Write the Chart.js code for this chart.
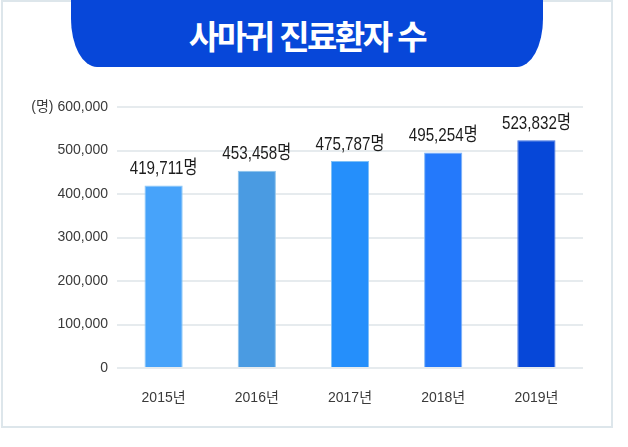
<!DOCTYPE html>
<html lang="ko">
<head>
<meta charset="utf-8">
<script src="https://cdn.jsdelivr.net/npm/chart.js@4.4.1/dist/chart.umd.min.js"></script>
<style>
    html, body { margin: 0; padding: 0; background: #fff; }
    body { width: 628px; height: 447px; position: relative; overflow: hidden; }
    .marco {
        position: absolute; left: 1px; top: 0; width: 608px; height: 424px;
        border: 2px solid #dde6eb;
    }
    .cinta {
        position: absolute; left: 71px; top: 0; width: 472px; height: 67px;
        background: #0747d9;
        border-radius: 0 0 26px 26px / 0 0 48px 48px;
        color: #fff; text-align: center;
        font: bold 33px "Noto Sans CJK KR", sans-serif;
        letter-spacing: -2.5px;
        line-height: 71px;
    }
    #grafica { position: absolute; left: 0; top: 0; }
</style>
</head>
<body>
<div class="marco"></div>
<div class="cinta">사마귀 진료환자 수</div>
<canvas id="grafica" width="628" height="447"></canvas>
<script>
/* ==================
    DATOS
================== */

const anios = ['2015년', '2016년', '2017년', '2018년', '2019년'];
const pacientes = [419711, 453458, 475787, 495254, 523832];
const ticksY = [0, 100000, 200000, 300000, 400000, 500000, 600000];
const coloresBarra = ['#47a3fa', '#4a9be2', '#258ffb', '#2479fb', '#0647d8'];
const coloresBorde = ['#8cc8f6', '#8cc3ec', '#7ec0f6', '#7fb5f6', '#3f6fe0'];

const fuente = '"Liberation Sans", Arial, "Noto Sans CJK KR", sans-serif';

// Etiquetas encima de cada barra (letra algo estrecha, como en el original)
const etiquetas = {
    id: 'etiquetas',
    afterDatasetsDraw(chart) {
        const ctx = chart.ctx;
        const meta = chart.getDatasetMeta(0);
        meta.data.forEach((bar, i) => {
            ctx.save();
            ctx.translate(bar.x, bar.y - 7);
            ctx.scale(0.8, 1);
            ctx.font = '19px ' + fuente;
            ctx.fillStyle = '#1c1c1c';
            ctx.textAlign = 'center';
            ctx.textBaseline = 'bottom';
            ctx.fillText(pacientes[i].toLocaleString('en-US') + '명', 0, 0);
            ctx.restore();
        });
    }
};

const ctx = document.getElementById('grafica').getContext('2d');
new Chart(ctx, {
    type: 'bar',
    data: {
        labels: anios,
        datasets: [{
            data: pacientes,
            backgroundColor: coloresBarra,
            borderColor: coloresBorde,
            borderWidth: { left: 1, right: 1, top: 1, bottom: 0 },
            categoryPercentage: 1,
            barPercentage: 0.41
        }]
    },
    options: {
        responsive: false,
        animation: false,
        layout: { padding: { left: 0, right: 45, top: 107, bottom: 0 } },
        plugins: {
            legend: { display: false },
            tooltip: { enabled: false }
        },
        scales: {
            y: {
                min: 0,
                max: 600000,
                afterFit: s => { s.width = 117; },
                afterBuildTicks: s => { s.ticks = ticksY.map(v => ({ value: v })); },
                border: { display: false },
                grid: { color: '#e6ebee', lineWidth: 2, drawTicks: false },
                ticks: {
                    padding: 9,
                    color: '#3a3a3a',
                    font: { family: fuente, size: 14 },
                    callback: v => (v === 600000 ? '(명) ' : '') + v.toLocaleString('en-US')
                }
            },
            x: {
                afterFit: s => { s.height = 79; },
                border: { display: false },
                grid: { display: false },
                ticks: {
                    padding: 14,
                    color: '#3a3a3a',
                    font: { family: fuente, size: 14 }
                }
            }
        }
    },
    plugins: [etiquetas]
});
</script>
</body>
</html>
